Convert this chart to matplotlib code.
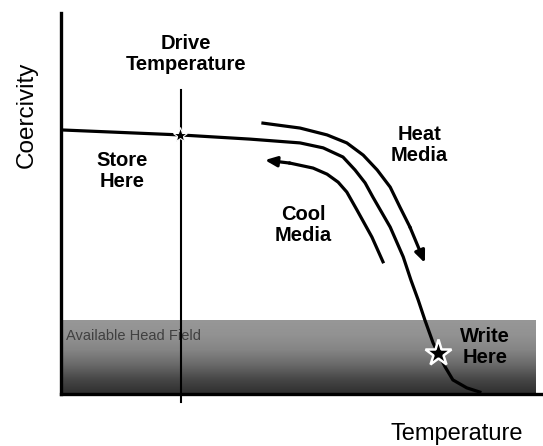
import numpy as np
import matplotlib
matplotlib.use("Agg")
import matplotlib.pyplot as plt
from matplotlib.colors import LinearSegmentedColormap

plt.rcParams['font.family'] = ['Liberation Sans', 'DejaVu Sans']

# coercivity curve (temperature, coercivity), axes run 0..100
curve_t = [0.2, 24.7, 39.2, 49.6, 54.4, 58.5, 61.0, 63.1, 64.7, 68.3, 71.0, 72.6,
           74.1, 75.5, 77.2, 78.2, 79.7, 81.3, 84.2, 86.9]
curve_h = [69.3, 68.0, 66.9, 65.9, 64.6, 62.2, 58.8, 55.4, 51.7, 43.8, 36.0, 29.9,
           24.7, 19.4, 13.4, 10.8, 7.1, 3.7, 1.6, 0.5]

# heating arrow path
heat_t = [41.9, 49.6, 55.2, 59.3, 62.7, 65.6, 68.3, 70.3, 72.4, 75.5]
heat_h = [71.1, 69.8, 68.0, 65.9, 62.7, 58.8, 54.3, 49.1, 43.8, 34.4]

# cooling arrow path (tail -> tip)
cool_t = [66.8, 64.5, 61.4, 59.3, 57.5, 55.2, 52.3, 47.5, 42.3]
cool_h = [34.7, 41.2, 48.3, 53.0, 55.6, 57.7, 59.3, 60.6, 61.4]

drive_temp = 24.9
drive_line = [-2.1, 79.8]
head_field = 19.2
band_t = [0.2, 98.5]
store_pt = (24.7, 68.0)
write_pt = (78.2, 10.8)

fig = plt.figure(figsize=(5.43, 4.46), dpi=100)
ax = fig.add_axes([61/543, 1 - 394/446, 1 - 61/543, (394 - 13)/446])
ax.set_xlim(0, 100)
ax.set_ylim(0, 100)

# head field band, darker towards the bottom
band_cmap = LinearSegmentedColormap.from_list(
    'band', ['#2e2e2e', '#474747', '#6a6a6a', '#858585', '#929292', '#979797'])
grad = np.linspace(0, 1, 256).reshape(-1, 1)
ax.imshow(grad, cmap=band_cmap, aspect='auto', origin='lower',
          extent=[band_t[0], band_t[1], 0, head_field], zorder=1)
ax.text(1.0, 15.2, "Available Head Field", fontsize=10.5, color='#404040',
        va='center', ha='left', zorder=2)

# drive temperature marker line
ax.plot([drive_temp, drive_temp], drive_line, color='black', lw=1.5, clip_on=False, zorder=3)

ax.plot(curve_t, curve_h, color='black', lw=2.3, zorder=4, solid_joinstyle='round')

for ts, hs in [(heat_t, heat_h), (cool_t, cool_h)]:
    ax.plot(ts[:-1], hs[:-1], color='black', lw=2.3, zorder=4, solid_joinstyle='round')
    ax.annotate("", xy=(ts[-1], hs[-1]), xytext=(ts[-2], hs[-2]),
                arrowprops=dict(arrowstyle='-|>,head_length=0.7,head_width=0.3',
                                color='black', lw=2.3, shrinkA=0, shrinkB=0), zorder=4)

ax.plot(*store_pt, marker='*', ms=11, color='black', mec='white', mew=0.8, zorder=5)
ax.plot(*write_pt, marker='*', ms=20, color='black', mec='white', mew=1.8, zorder=5)

bold = dict(fontsize=14.5, fontweight='bold', ha='center', va='center', linespacing=1.1)
ax.text(25.9, 89.3, "Drive\nTemperature", **bold)
ax.text(12.7, 58.5, "Store\nHere", **bold)
ax.text(74.3, 65.4, "Heat\nMedia", **bold)
ax.text(50.2, 44.4, "Cool\nMedia", **bold)
ax.text(88.0, 12.3, "Write\nHere", zorder=6, **bold)

for s in ['top', 'right']:
    ax.spines[s].set_visible(False)
for s in ['left', 'bottom']:
    ax.spines[s].set_linewidth(2.4)
ax.set_xticks([])
ax.set_yticks([])

fig.text(457/543, 1 - 434/446, "Temperature", fontsize=17, ha='center', va='center')
fig.text(27/543, 1 - 115/446, "Coercivity", fontsize=17.5, ha='center', va='center', rotation=90)

fig.savefig("out.png", dpi=100)
